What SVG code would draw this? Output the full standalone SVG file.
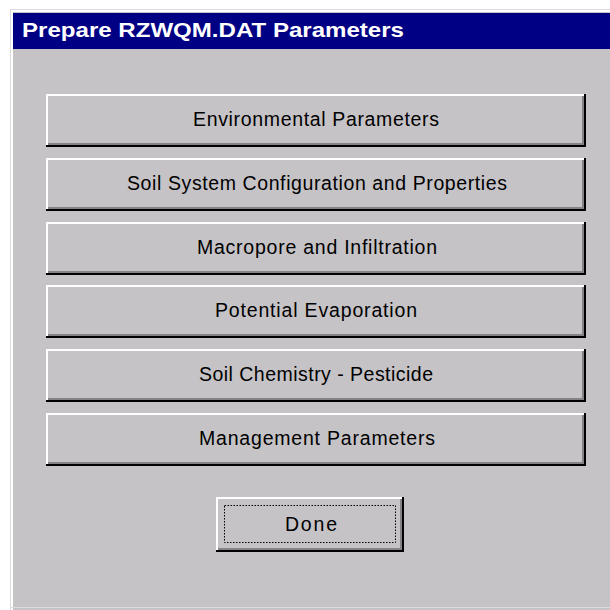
<svg xmlns="http://www.w3.org/2000/svg" width="610" height="610" viewBox="0 0 610 610">
<style>
.lbl{font-family:"Liberation Sans",Arial,sans-serif;font-size:19.5px;fill:#000;text-anchor:middle}
.face{fill:#c6c3c6}
.hl{stroke:#ffffff;stroke-width:2;fill:none}
.sh{stroke:#848284;stroke-width:2;fill:none}
.dk{stroke:#000000;stroke-width:2;fill:none}
</style>
<rect x="0" y="0" width="610" height="610" fill="#ffffff"/>
<rect x="10" y="9" width="600" height="601" fill="#c6c3c6"/>
<path d="M10.5 610 V9.5 H610" stroke="#dedbde" stroke-width="1" fill="none"/>
<path d="M12 610 V11 H610" stroke="#ffffff" stroke-width="2" fill="none"/>
<line x1="10" y1="607.5" x2="610" y2="607.5" stroke="#dedbde" stroke-width="1"/>
<rect x="13" y="13" width="597" height="36" fill="#000084"/>
<text x="22" y="37" font-family="Liberation Sans,Arial,sans-serif" font-size="21px" font-weight="bold" fill="#ffffff" textLength="382" lengthAdjust="spacingAndGlyphs">Prepare RZWQM.DAT Parameters</text>
<g id="buttons">
<g id="btn1">
<rect x="46" y="94" width="539" height="52" class="face"/>
<path d="M47 146 V95 H585" class="hl"/>
<path d="M48 144 H583 V96" class="sh"/>
<path d="M46 146 H585 V94" class="dk"/>
<text x="316" y="126" class="lbl" textLength="246">Environmental Parameters</text>
</g>
<g id="btn2">
<rect x="46" y="158" width="539" height="52" class="face"/>
<path d="M47 210 V159 H585" class="hl"/>
<path d="M48 208 H583 V160" class="sh"/>
<path d="M46 210 H585 V158" class="dk"/>
<text x="317" y="190" class="lbl" textLength="380">Soil System Configuration and Properties</text>
</g>
<g id="btn3">
<rect x="46" y="222" width="539" height="52" class="face"/>
<path d="M47 274 V223 H585" class="hl"/>
<path d="M48 272 H583 V224" class="sh"/>
<path d="M46 274 H585 V222" class="dk"/>
<text x="317" y="254" class="lbl" textLength="240">Macropore and Infiltration</text>
</g>
<g id="btn4">
<rect x="46" y="285" width="539" height="52" class="face"/>
<path d="M47 337 V286 H585" class="hl"/>
<path d="M48 335 H583 V287" class="sh"/>
<path d="M46 337 H585 V285" class="dk"/>
<text x="316" y="317" class="lbl" textLength="202">Potential Evaporation</text>
</g>
<g id="btn5">
<rect x="46" y="349" width="539" height="52" class="face"/>
<path d="M47 401 V350 H585" class="hl"/>
<path d="M48 399 H583 V351" class="sh"/>
<path d="M46 401 H585 V349" class="dk"/>
<text x="316" y="381" class="lbl" textLength="234">Soil Chemistry - Pesticide</text>
</g>
<g id="btn6">
<rect x="46" y="413" width="539" height="52" class="face"/>
<path d="M47 465 V414 H585" class="hl"/>
<path d="M48 463 H583 V415" class="sh"/>
<path d="M46 465 H585 V413" class="dk"/>
<text x="317" y="445" class="lbl" textLength="236">Management Parameters</text>
</g>
<g id="done">
<rect x="216" y="497" width="187" height="54" class="face"/>
<path d="M217 551 V498 H403" class="hl"/>
<path d="M218 549 H401 V499" class="sh"/>
<path d="M216 551 H403 V497" class="dk"/>
<rect x="224.5" y="505.5" width="171" height="37" fill="none" stroke="#000" stroke-width="1" stroke-dasharray="1.5,1.5"/>
<text x="311" y="531" class="lbl" textLength="52">Done</text>
</g>
</g>
</svg>
